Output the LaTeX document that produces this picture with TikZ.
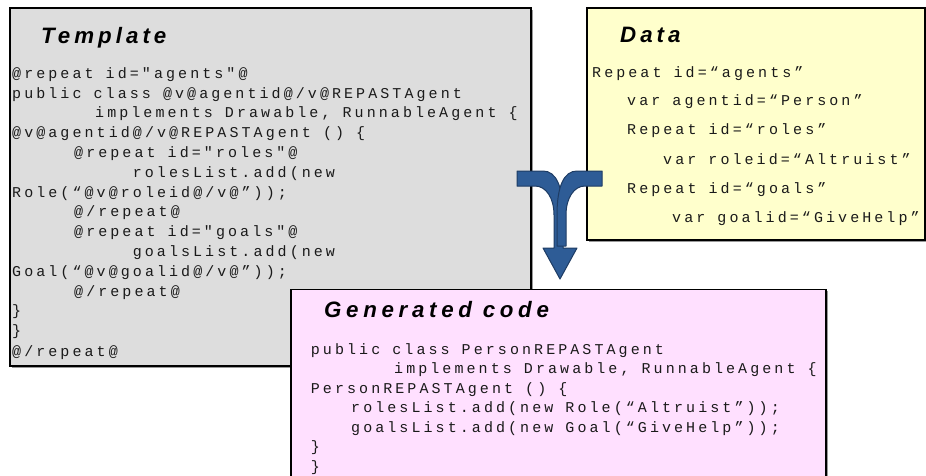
\documentclass[tikz,border=0pt]{standalone}
\usepackage{fontspec}
\newfontfamily\codefont{Liberation Mono}[LetterSpace=20.5]
\newfontfamily\ttlfont{Liberation Sans}[LetterSpace=18]
\newfontfamily\gttlfont{Liberation Sans}[LetterSpace=21]
\definecolor{tplfill}{HTML}{DDDDDD}
\definecolor{datfill}{HTML}{FFFFCC}
\definecolor{genfill}{HTML}{FFE0FF}
\definecolor{arrfill}{HTML}{2E5C96}
\definecolor{arrline}{HTML}{1E3C64}
\definecolor{shadowc}{HTML}{999999}
\definecolor{codec}{HTML}{1A1A1A}
\tikzset{
  panel/.style={draw=black, line width=1.3pt},
  shadowbox/.style={fill=shadowc},
  code/.style={anchor=base west, inner sep=0pt, text=codec, font=\codefont\fontsize{15}{18}\selectfont},
  ttl/.style={anchor=base west, inner sep=0pt, font=\ttlfont\bfseries\itshape\fontsize{22.3}{26}\selectfont},
  arrowpart/.style={fill=arrfill, draw=arrline, line width=1pt, line join=round}
}
\begin{document}
\begin{tikzpicture}[x=1pt,y=-1pt]
\useasboundingbox (0,0) rectangle (926,475);
% Template panel
\fill[shadowbox] (11.5,9.5) rectangle (532.5,367.5);
\draw[panel, fill=tplfill] (10,8) rectangle (531,366);
\node[ttl] (ttpl) at (41,43.3) {Template};
\node[code] (t1) at (12,78.3) {@repeat id="agents"@};
\node[code] (t2) at (12,98.1) {public class @v@agentid@/v@REPASTAgent};
\node[code] (t3) at (95,117.9) {implements Drawable, RunnableAgent \{};
\node[code] (t4) at (12,137.7) {@v@agentid@/v@REPASTAgent () \{};
\node[code] (t5) at (74,157.5) {@repeat id="roles"@};
\node[code] (t6) at (132.6,177.3) {rolesList.add(new};
\node[code] (t7) at (12,197.1) {Role(“@v@roleid@/v@”));};
\node[code] (t8) at (74,216.9) {@/repeat@};
\node[code] (t9) at (74,236.7) {@repeat id="goals"@};
\node[code] (t10) at (132.6,256.5) {goalsList.add(new};
\node[code] (t11) at (12,276.3) {Goal(“@v@goalid@/v@”));};
\node[code] (t12) at (74,296.1) {@/repeat@};
\node[code] (t13) at (12,315.9) {\}};
\node[code] (t14) at (12,335.7) {\}};
\node[code] (t15) at (12,356) {@/repeat@};
% Data panel
\fill[shadowbox] (588.5,9.5) rectangle (927,241.5);
\draw[panel, fill=datfill] (587,8) rectangle (925,240);
\node[ttl] (tdat) at (620,42.7) {Data};
\node[code] (d1) at (592,77.8) {Repeat id=“agents”};
\node[code] (d2) at (627,105.8) {var agentid=“Person”};
\node[code] (d3) at (627,134.8) {Repeat id=“roles”};
\node[code] (d4) at (663,164.8) {var roleid=“Altruist”};
\node[code] (d5) at (627,193.8) {Repeat id=“goals”};
\node[code] (d6) at (672,222.8) {var goalid=“GiveHelp”};
% merge arrow
\draw[arrowpart] (517,171) -- (543,171) .. controls (556,171) and (563,186) .. (563,215)
  -- (563,248) -- (577,248) -- (560,279) -- (543,248) -- (554,248) -- (554,215)
  .. controls (554,198) and (546,186) .. (535,186) -- (517,186) -- cycle;
\draw[arrowpart] (602,171) -- (577,171) .. controls (564,171) and (557,186) .. (557,215)
  -- (557,246) -- (566,246) -- (566,215) .. controls (566,198) and (574,186) .. (585,186)
  -- (602,186) -- cycle;
% Generated panel
\fill[shadowbox] (292.5,291) rectangle (827.5,480);
\draw[panel, fill=genfill] (291,289.5) rectangle (826,480);
\node[ttl, font=\gttlfont\bfseries\itshape\fontsize{22.3}{26}\selectfont] (tgen) at (324,317) {Generated code};
\node[code] (g1) at (310.7,354) {public class PersonREPASTAgent};
\node[code] (g2) at (394,373.5) {implements Drawable, RunnableAgent \{};
\node[code] (g3) at (310.7,393) {PersonREPASTAgent () \{};
\node[code] (g4) at (351,412.5) {rolesList.add(new Role(“Altruist”));};
\node[code] (g5) at (351,432) {goalsList.add(new Goal(“GiveHelp”));};
\node[code] (g6) at (310.7,451.5) {\}};
\node[code] (g7) at (310.7,471) {\}};
\end{tikzpicture}
\end{document}
